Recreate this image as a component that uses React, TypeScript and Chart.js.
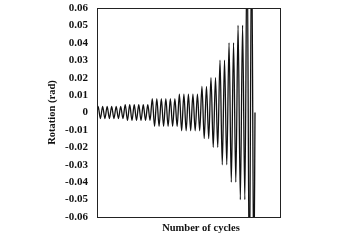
import React, { useEffect, useRef } from "react";
import { Chart, registerables } from "chart.js";
Chart.register(...registerables);

// Peak rotation amplitude of each loading cycle (rad)
const cycleAmplitudes = [
  0.0035, 0.0035, 0.0035, 0.0035, 0.0035, 0.0035,
  0.0045, 0.0045, 0.0045, 0.0045, 0.0045, 0.0045,
  0.008, 0.008, 0.008, 0.008, 0.008, 0.008,
  0.0105, 0.0105, 0.0105, 0.0105, 0.0105,
  0.015, 0.015,
  0.02, 0.02,
  0.03, 0.03,
  0.04, 0.04,
  0.05, 0.05,
  0.1, 0.1,
];
const yMin = -0.06;
const yMax = 0.06;
const yStep = 0.01;
const xMax = 40.54;
const yAxisTitle = "Rotation (rad)";
const xAxisTitle = "Number of cycles";

const FONT = "'Liberation Serif', 'Times New Roman', serif";

export default function App() {
  const ref = useRef<HTMLCanvasElement | null>(null);
  useEffect(() => {
    if (!ref.current) return;
    const pts: { x: number; y: number }[] = [{ x: 0, y: 0 }];
    cycleAmplitudes.forEach((a, i) => {
      pts.push({ x: i + 0.25, y: a });
      pts.push({ x: i + 0.75, y: -a });
    });
    pts.push({ x: cycleAmplitudes.length, y: 0 });

    const framePlugin = {
      id: "frame",
      afterDatasetsDraw(chart: any) {
        const { ctx, chartArea: a } = chart;
        ctx.save();
        ctx.strokeStyle = "#222";
        ctx.lineWidth = 1;
        ctx.strokeRect(Math.round(a.left) + 0.5, Math.round(a.top) + 0.5, Math.round(a.right - a.left), Math.round(a.bottom - a.top));
        ctx.restore();
      },
      afterDraw(chart: any) {
        const { ctx, chartArea: a } = chart;
        ctx.save();
        ctx.fillStyle = "#111";
        ctx.font = `bold 10.5px ${FONT}`;
        ctx.textAlign = "center";
        ctx.textBaseline = "middle";
        ctx.fillText(xAxisTitle, a.left + (a.right - a.left) * 0.568, a.bottom + 11);
        ctx.restore();
      },
    };

    const chart = new Chart(ref.current, {
      type: "line",
      data: {
        datasets: [
          {
            data: pts,
            borderColor: "#111",
            borderWidth: 1.3,
            pointRadius: 0,
            cubicInterpolationMode: "monotone",
            fill: false,
          },
        ],
      },
      options: {
        animation: false,
        responsive: false,
        layout: { padding: { left: 40, right: 67, top: 8, bottom: 0 } },
        plugins: { legend: { display: false }, tooltip: { enabled: false } },
        scales: {
          x: {
            type: "linear",
            min: 0,
            max: xMax,
            grid: { display: false, drawTicks: false },
            border: { display: false },
            ticks: { display: false },
            afterFit: (s: any) => {
              s.height = 28;
              s.paddingLeft = 0;
              s.paddingRight = 0;
            },
          },
          y: {
            min: yMin,
            max: yMax,
            grid: { display: false, drawTicks: false },
            border: { display: false },
            ticks: {
              stepSize: yStep,
              padding: 9,
              color: "#111",
              font: { family: FONT, size: 11, weight: "bold" },
              callback: (v: any) => String(Number(Number(v).toFixed(2))),
            },
            title: {
              display: true,
              text: yAxisTitle,
              color: "#111",
              font: { family: FONT, size: 10.5, weight: "bold" },
              padding: { top: 6, bottom: 0 },
            },
            afterFit: (s: any) => {
              s.width = 57;
              s.paddingTop = 0;
              s.paddingBottom = 0;
            },
          },
        },
      },
      plugins: [framePlugin],
    });
    return () => chart.destroy();
  }, []);
  return (
    <canvas
      ref={ref}
      width={347}
      height={245}
      style={{ position: "absolute", left: 0, top: 0, width: 347, height: 245 }}
    />
  );
}
